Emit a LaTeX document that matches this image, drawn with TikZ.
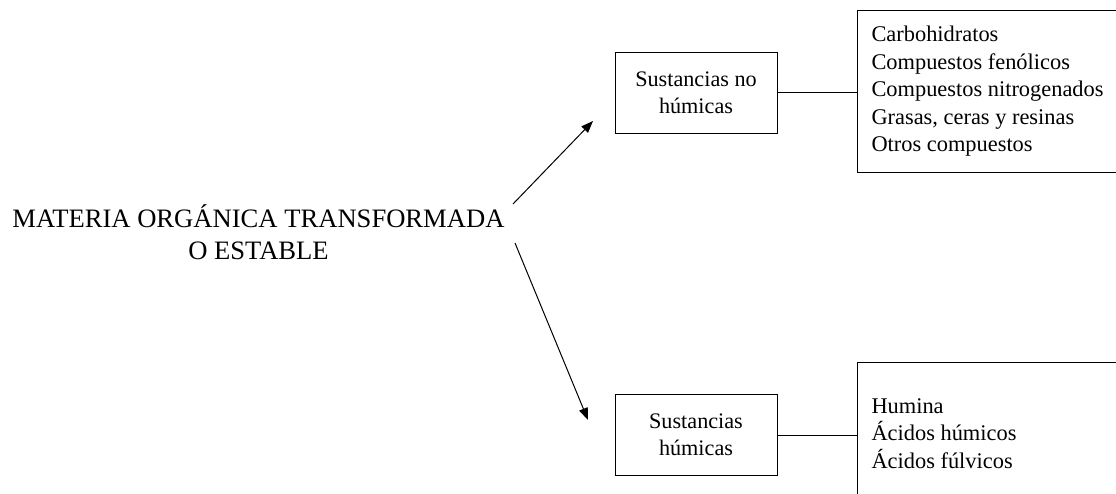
\documentclass[tikz,border=0pt]{standalone}
\usepackage{fontspec}
\setmainfont{Liberation Serif}
\usetikzlibrary{arrows.meta}
\begin{document}
\begin{tikzpicture}[x=1pt,y=-1pt,line width=1pt,
  box/.style={draw,minimum width=162pt,minimum height=81pt,inner sep=0pt,align=center,font=\fontsize{22.2}{27}\selectfont},
  listbox/.style={draw,anchor=north west,text width=270pt,inner xsep=14pt,inner ysep=0pt,align=flush left,font=\fontsize{22.4}{27.5}\selectfont},
  arr/.style={-{Triangle[length=12pt,width=9pt]}}]
\useasboundingbox (0,0) rectangle (1116,494);
\clip (0,0) rectangle (1116,494);
\node[align=center,font=\fontsize{26.6}{32}\selectfont] (mo) at (258.5,232) {MATERIA ORGÁNICA TRANSFORMADA\\O ESTABLE};
\node[box] (nh) at (696,93) {Sustancias no\\húmicas};
\node[box] (h) at (696,435) {Sustancias\\húmicas};
\node[listbox,minimum height=162pt] (l1) at (857,10) {Carbohidratos\\Compuestos fenólicos\\Compuestos nitrogenados\\Grasas, ceras y resinas\\Otros compuestos};
\node[listbox,minimum height=142pt] (l2) at (857,362) {Humina\\Ácidos húmicos\\Ácidos fúlvicos};
\coordinate (s1) at (513,204);
\coordinate (e1) at (593,121);
\coordinate (s2) at (515,243);
\coordinate (e2) at (588,420);
\draw[arr] (s1) -- (e1);
\draw[arr] (s2) -- (e2);
\draw (nh.east) -- (nh.east -| l1.west);
\draw (h.east) -- (h.east -| l2.west);
\end{tikzpicture}
\end{document}
